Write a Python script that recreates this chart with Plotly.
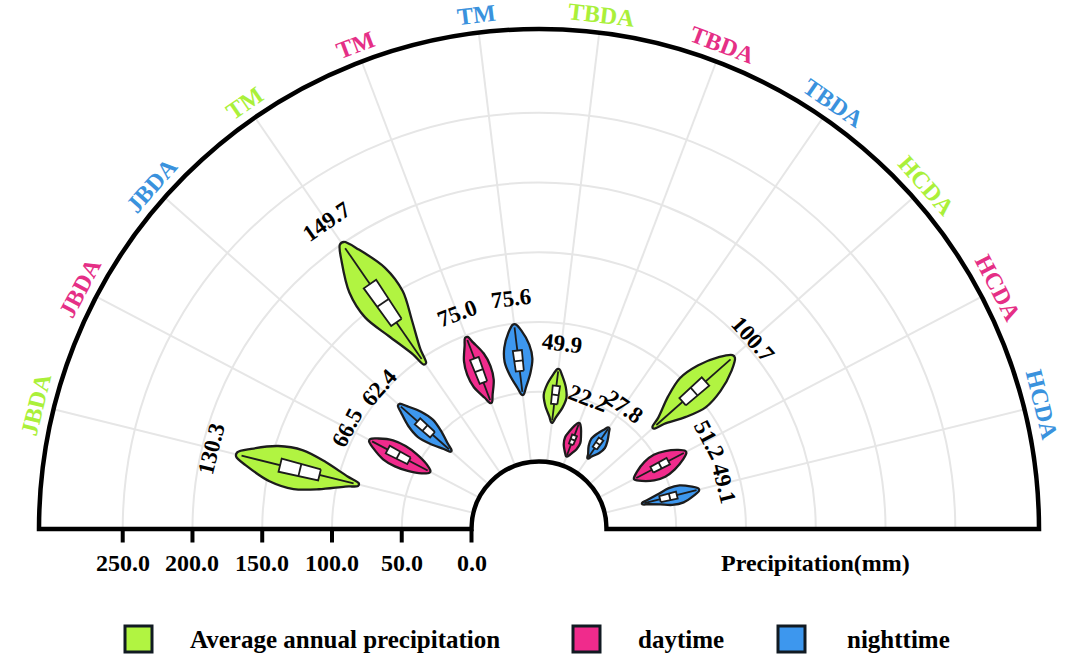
import numpy as np
import plotly.graph_objects as go

# --- data ------------------------------------------------------------------
regions = ["JBDA", "JBDA", "JBDA", "TM", "TM", "TM",
           "TBDA", "TBDA", "TBDA", "HCDA", "HCDA", "HCDA"]
periods = ["Average annual precipitation", "daytime", "nighttime"] * 4

v_min = [84.9, 39.8, 35.8, 95.5, 48.4, 48.6, 28.5, 7.3, 13.2, 60.9, 28.7, 27.8]
v_q1 = [113.7, 56.9, 53.6, 131.6, 64.0, 65.7, 41.9, 16.5, 22.0, 89.2, 43.0, 41.0]
v_med = [128.2, 65.5, 60.8, 148.6, 73.1, 73.1, 48.5, 20.1, 26.0, 100.2, 49.7, 48.1]
v_q3 = [142.8, 74.1, 68.0, 165.0, 82.3, 80.5, 55.0, 23.5, 30.0, 111.1, 56.3, 53.4]
v_max = [174.8, 88.7, 85.9, 200.4, 98.5, 99.2, 67.0, 32.8, 39.7, 138.1, 70.5, 69.6]
v_mean = [130.3, 66.5, 62.4, 149.7, 75.0, 75.6, 49.9, 22.2, 27.8, 100.7, 51.2, 49.1]

# violin half-width (deg) at 10/30/50/70/90 % of the span, inner -> outer
v_width = [
    [1.5, 3.6, 4.6, 3.8, 1.7],
    [2.3, 3.8, 4.2, 3.6, 1.7],
    [1.5, 3.5, 4.3, 3.3, 1.4],
    [1.2, 3.3, 4.8, 4.1, 1.8],
    [1.7, 3.9, 4.2, 3.3, 1.3],
    [1.7, 3.8, 4.7, 3.9, 1.9],
    [1.6, 4.0, 4.9, 3.7, 1.6],
    [2.2, 4.5, 4.9, 3.4, 1.7],
    [1.4, 3.8, 4.5, 3.2, 1.3],
    [1.5, 4.2, 5.4, 4.3, 2.1],
    [2.6, 4.8, 5.2, 4.0, 1.9],
    [1.1, 2.4, 3.6, 3.4, 1.6],
]
width_pos = [0.1, 0.3, 0.5, 0.7, 0.9]

radial_ticks = [0, 50, 100, 150, 200, 250]
r_max = 310

# --- style -------------------------------------------------------------------
FONT = "Liberation Serif"
FILL = {"Average annual precipitation": "#b1f441",
        "daytime": "#f02b8c",
        "nighttime": "#3d97ee"}
LABEL = {"Average annual precipitation": "#aaf03a",
         "daytime": "#e52f86",
         "nighttime": "#3a92dd"}
OUTLINE = "#1c1c1c"
GRID = "#e6e6e6"
TIP = 0.4
BOX_HALF = 1.45

W, H = 1080, 659
CX, CY, R = 539, 529, 500
HOLE = 0.135

n = len(regions)
theta_c = [180.0 * (n - i) / (n + 1) for i in range(n)]


def to_paper(r, theta, extra_px=0.0):
    rho = R * HOLE + r / r_max * R * (1 - HOLE) + extra_px
    t = np.radians(theta)
    return (CX + rho * np.cos(t)) / W, (H - (CY - rho * np.sin(t))) / H


fig = go.Figure()

for i in range(n):
    th = theta_c[i]
    span = v_max[i] - v_min[i]
    rs = [v_min[i]] + [v_min[i] + f * span for f in width_pos] + [v_max[i]]
    ws = [TIP] + v_width[i] + [TIP]
    r_out = rs + rs[::-1] + [rs[0]]
    t_out = [th + w for w in ws] + [th - w for w in ws[::-1]] + [th + ws[0]]
    fig.add_trace(go.Scatterpolar(
        r=r_out, theta=t_out, mode="lines", fill="toself",
        fillcolor=FILL[periods[i]],
        line=dict(color=OUTLINE, width=2.3, shape="spline", smoothing=0.9),
        showlegend=False, hoverinfo="skip",
    ))
    fig.add_trace(go.Scatterpolar(
        r=[v_min[i] + 0.04 * span, v_max[i] - 0.04 * span], theta=[th, th],
        mode="lines", line=dict(color=OUTLINE, width=1.8),
        showlegend=False, hoverinfo="skip",
    ))
    fig.add_trace(go.Scatterpolar(
        r=[v_q1[i], v_q3[i], v_q3[i], v_q1[i], v_q1[i]],
        theta=[th - BOX_HALF, th - BOX_HALF, th + BOX_HALF, th + BOX_HALF, th - BOX_HALF],
        mode="lines", fill="toself", fillcolor="white",
        line=dict(color=OUTLINE, width=1.8),
        showlegend=False, hoverinfo="skip",
    ))
    fig.add_trace(go.Scatterpolar(
        r=[v_med[i], v_med[i]], theta=[th - BOX_HALF, th + BOX_HALF],
        mode="lines", line=dict(color=OUTLINE, width=1.8),
        showlegend=False, hoverinfo="skip",
    ))

annotations = []
# category labels round the arc
for i in range(n):
    x, y = to_paper(r_max, theta_c[i], extra_px=18)
    annotations.append(dict(
        x=x, y=y, xref="paper", yref="paper", text=regions[i], showarrow=False,
        textangle=90 - theta_c[i], xanchor="center", yanchor="middle",
        font=dict(family=FONT, size=24, color=LABEL[periods[i]], weight="bold"),
    ))
# mean labels beyond the outer tip of each violin
for i in range(n):
    x, y = to_paper(v_max[i], theta_c[i], extra_px=26)
    annotations.append(dict(
        x=x, y=y, xref="paper", yref="paper", text=f"{v_mean[i]:.1f}", showarrow=False,
        textangle=90 - theta_c[i], xanchor="center", yanchor="middle",
        font=dict(family=FONT, size=23, color="black", weight="bold"),
    ))
# radial tick labels under the left half of the base line
for v in radial_ticks:
    x, _ = to_paper(v, 180)
    annotations.append(dict(
        x=x, y=1 - 563 / H, xref="paper", yref="paper", text=f"{v:.1f}", showarrow=False,
        xanchor="center", yanchor="middle",
        font=dict(family=FONT, size=24, color="black", weight="bold"),
    ))
annotations.append(dict(
    x=815 / W, y=1 - 563 / H, xref="paper", yref="paper", text="Precipitation(mm)",
    showarrow=False, xanchor="center", yanchor="middle",
    font=dict(family=FONT, size=24, color="black", weight="bold"),
))

# legend drawn by hand
shapes = []
legend_box_x = [125, 573, 778]
legend_text_x = [188, 636, 845]
for k, name in enumerate(["Average annual precipitation", "daytime", "nighttime"]):
    x0 = legend_box_x[k]
    shapes.append(dict(
        type="rect", xref="paper", yref="paper",
        x0=x0 / W, x1=(x0 + 27) / W, y0=1 - 652 / H, y1=1 - 626 / H,
        fillcolor=FILL[name], line=dict(color="#111a22", width=3),
    ))
    annotations.append(dict(
        x=legend_text_x[k] / W, y=1 - 639 / H, xref="paper", yref="paper",
        text=name, showarrow=False, xanchor="left", yanchor="middle",
        font=dict(family=FONT, size=25, color="black", weight="bold"),
    ))

fig.update_layout(
    width=W, height=H,
    margin=dict(l=0, r=0, t=0, b=0),
    paper_bgcolor="white",
    showlegend=False,
    polar=dict(
        domain=dict(x=[(CX - R) / W, (CX + R) / W], y=[(H - CY) / H, (H - CY + R) / H]),
        sector=[0, 180],
        hole=HOLE,
        bgcolor="white",
        radialaxis=dict(
            range=[0, r_max], tickvals=radial_ticks, showticklabels=False,
            angle=180, side="counterclockwise",
            showline=False, ticks="outside", ticklen=13, tickwidth=3.5, tickcolor="black",
            showgrid=True, gridcolor=GRID, gridwidth=2,
        ),
        angularaxis=dict(
            thetaunit="degrees", direction="counterclockwise", rotation=0,
            tickvals=theta_c, showticklabels=False, ticks="",
            showline=True, linecolor="black", linewidth=4.5,
            showgrid=True, gridcolor=GRID, gridwidth=2,
        ),
    ),
    annotations=annotations,
    shapes=shapes,
)

# the page's default body margin would push the fixed-size figure off by 8px
fig.write_html("out.html", config={"displayModeBar": False},
               post_script="document.body.style.margin='0';")
